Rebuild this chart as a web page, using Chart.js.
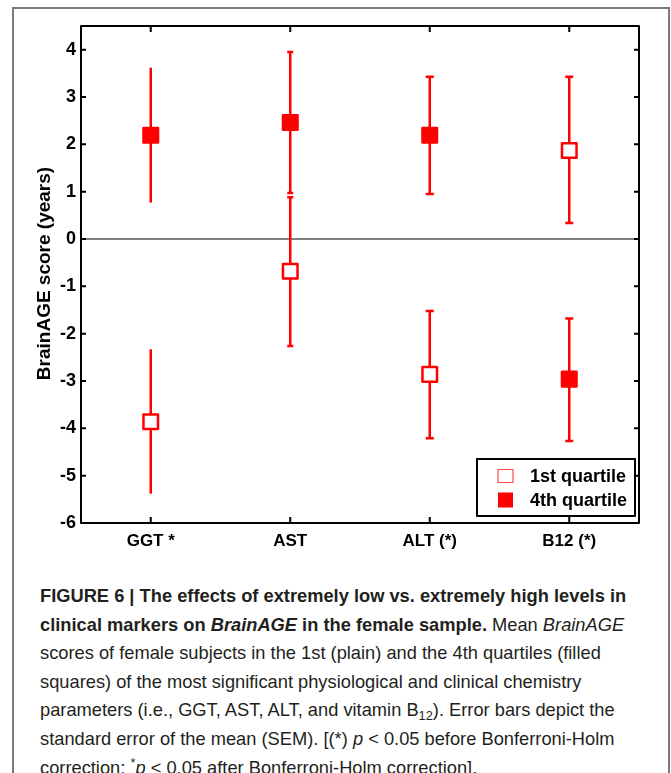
<!DOCTYPE html>
<html><head><meta charset="utf-8">
<script src="https://cdn.jsdelivr.net/npm/chart.js@4.4.1/dist/chart.umd.min.js"></script>
<style>
html,body{margin:0;padding:0;background:#fff;}
body{width:671px;height:773px;overflow:hidden;position:relative;}
#frame{position:absolute;left:12px;top:7px;width:658px;height:820px;border:2px solid #7a7a7a;box-sizing:border-box;}
#chartwrap{position:absolute;left:0;top:0;width:671px;height:560px;}
#caption{position:absolute;left:40px;top:582px;font-family:"Liberation Sans",Arial,sans-serif;font-size:19px;line-height:28.6px;color:#231f20;white-space:nowrap;transform:scaleX(0.962);transform-origin:0 0;}
#caption b{font-weight:bold;}
#caption sub{font-size:0.7em;line-height:0;vertical-align:-0.3em;}
#caption sup{font-size:0.7em;line-height:0;vertical-align:0.5em;}
</style></head>
<body>
<div id="frame"></div>
<div id="chartwrap"><canvas id="c" width="671" height="560"></canvas></div>
<div id="caption">
<div><b>FIGURE 6 | The effects of extremely low vs. extremely high levels in</b></div>
<div><b>clinical markers on <i>BrainAGE</i> in the female sample.</b> Mean <i>BrainAGE</i></div>
<div>scores of female subjects in the 1st (plain) and the 4th quartiles (filled</div>
<div>squares) of the most significant physiological and clinical chemistry</div>
<div>parameters (i.e., GGT, AST, ALT, and vitamin B<sub>12</sub>). Error bars depict the</div>
<div>standard error of the mean (SEM). [(*) <i>p</i> &lt; 0.05 before Bonferroni-Holm</div>
<div>correction; <sup>*</sup><i>p</i> &lt; 0.05 after Bonferroni-Holm correction].</div>
</div>
<script>
const categories = ['GGT *', 'AST', 'ALT (*)', 'B12 (*)'];
const q1Mean = [-3.86, -0.68, -2.86, 1.87];
const q1Low  = [-5.38, -2.26, -4.21, 0.34];
const q1High = [-2.33, 0.88, -1.52, 3.43];
const q4Mean = [2.19, 2.46, 2.19, -2.96];
const q4Low  = [0.77, 0.97, 0.95, -4.27];
const q4High = [3.62, 3.95, 3.43, -1.68];
const yTicks = [-6, -5, -4, -3, -2, -1, 0, 1, 2, 3, 4];
const seriesNames = ['1st quartile', '4th quartile'];
const yTitle = 'BrainAGE score (years)';

const RED = '#ff0000';
const capWidths = [0, 6, 8, 8];

const decor = {
  id: 'decor',
  beforeDatasetsDraw(chart) {
    const ctx = chart.ctx, x = chart.scales.x, y = chart.scales.y, a = chart.chartArea;
    ctx.save();
    ctx.strokeStyle = '#808080';
    ctx.lineWidth = 2;
    ctx.beginPath();
    ctx.moveTo(a.left, y.getPixelForValue(0));
    ctx.lineTo(a.right, y.getPixelForValue(0));
    ctx.stroke();
    ctx.strokeStyle = RED;
    ctx.lineWidth = 2.5;
    const bars = [[q1Low, q1High], [q4Low, q4High]];
    bars.forEach(([lo, hi]) => {
      categories.forEach((c, i) => {
        const px = x.getPixelForValue(i);
        const pl = y.getPixelForValue(lo[i]);
        const ph = y.getPixelForValue(hi[i]);
        ctx.beginPath();
        ctx.moveTo(px, pl); ctx.lineTo(px, ph);
        const cw = capWidths[i] / 2;
        if (cw > 0) {
          ctx.moveTo(px - cw, pl); ctx.lineTo(px + cw, pl);
          ctx.moveTo(px - cw, ph); ctx.lineTo(px + cw, ph);
        }
        ctx.stroke();
      });
    });
    ctx.restore();
    ctx.lineJoin = 'round';
  },
  afterDatasetsDraw(chart) {
    const ctx = chart.ctx, x = chart.scales.x, y = chart.scales.y, a = chart.chartArea;
    ctx.save();
    const L = 477, T = 459, R = 635, B = 516;
    ctx.fillStyle = '#fff';
    ctx.fillRect(L, T, R - L, B - T);
    ctx.strokeStyle = '#000';
    ctx.lineWidth = 2;
    ctx.strokeRect(L, T, R - L, B - T);
    ctx.lineWidth = 1.2;
    ctx.strokeStyle = '#ff4a4a';
    ctx.fillStyle = '#fff';
    ctx.fillRect(498, 469.5, 15, 13);
    ctx.strokeRect(498, 469.5, 15, 13);
    ctx.fillStyle = RED;
    ctx.fillRect(498, 492.5, 15, 15);
    ctx.fillStyle = '#000';
    ctx.font = 'bold 18px "Liberation Sans", Arial, sans-serif';
    ctx.textBaseline = 'middle';
    ctx.textAlign = 'left';
    ctx.fillText(seriesNames[0], 530, 477);
    ctx.fillText(seriesNames[1], 530, 501);
    ctx.strokeStyle = '#000';
    ctx.lineWidth = 2;
    ctx.strokeRect(a.left, a.top, a.right - a.left, a.bottom - a.top);
    ctx.beginPath();
    yTicks.forEach(v => {
      const py = y.getPixelForValue(v);
      ctx.moveTo(a.left, py); ctx.lineTo(a.left + 5, py);
      ctx.moveTo(a.right, py); ctx.lineTo(a.right - 5, py);
    });
    categories.forEach((c, i) => {
      const px = x.getPixelForValue(i);
      ctx.moveTo(px, a.top); ctx.lineTo(px, a.top + 6);
      ctx.moveTo(px, a.bottom); ctx.lineTo(px, a.bottom - 6);
    });
    ctx.stroke();
    ctx.restore();
  },
  afterDraw(chart) {
    const ctx = chart.ctx, a = chart.chartArea;
    ctx.save();
    ctx.translate(45, (a.top + a.bottom) / 2 - 1);
    ctx.rotate(-Math.PI / 2);
    ctx.fillStyle = '#000';
    ctx.font = 'bold 19px "Liberation Sans", Arial, sans-serif';
    ctx.textAlign = 'center';
    ctx.textBaseline = 'middle';
    ctx.fillText(yTitle, 0, 0);
    ctx.restore();
  }
};

new Chart(document.getElementById('c'), {
  type: 'line',
  data: {
    labels: categories,
    datasets: [
      { label: seriesNames[0], data: q1Mean, showLine: false, pointStyle: 'rect', pointRadius: 10.3, pointHoverRadius: 10.3,
        borderWidth: 2.5, pointBorderWidth: 2.5, pointBorderColor: RED, pointBackgroundColor: '#fff', borderColor: RED },
      { label: seriesNames[1], data: q4Mean, showLine: false, pointStyle: 'rect', pointRadius: 10.3, pointHoverRadius: 10.3,
        borderWidth: 2.5, pointBorderWidth: 2.5, pointBorderColor: RED, pointBackgroundColor: RED, borderColor: RED }
    ]
  },
  options: {
    responsive: false,
    animation: false,
    events: [],
    layout: { padding: { left: 11, top: 26, right: 32, bottom: 0 } },
    plugins: { legend: { display: false }, tooltip: { enabled: false } },
    scales: {
      x: {
        type: 'category', offset: true,
        grid: { display: false, drawTicks: false }, border: { display: false },
        ticks: { color: '#000', font: { family: '"Liberation Sans", Arial, sans-serif', size: 17, weight: 'bold' }, padding: 8, maxRotation: 0 },
        afterFit(s) { s.height = 37; }
      },
      y: {
        min: -6, max: 4.5,
        grid: { display: false, drawTicks: false }, border: { display: false },
        afterBuildTicks(s) { s.ticks = yTicks.map(v => ({ value: v })); },
        ticks: { color: '#000', font: { family: '"Liberation Sans", Arial, sans-serif', size: 18, weight: 'bold' }, padding: 5 },
        afterFit(s) { s.width = 70; }
      }
    }
  },
  plugins: [decor]
});
</script>
</body></html>
